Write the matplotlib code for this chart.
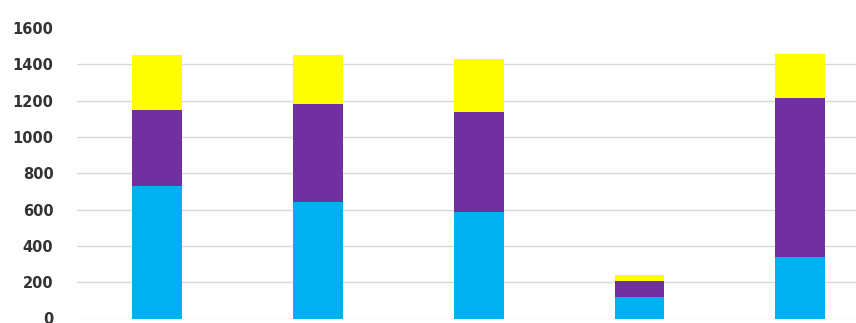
import matplotlib.pyplot as plt
import numpy as np

categories = ["A", "B", "C", "D", "E"]
cyan_vals = [730, 640, 585, 120, 340]
purple_vals = [420, 540, 550, 88, 873]
yellow_vals = [300, 270, 295, 32, 245]
y_ticks = [0, 200, 400, 600, 800, 1000, 1200, 1400, 1600]

fig = plt.figure(figsize=(8.56, 3.23), dpi=100)
# axes runs off the right edge, as in the cropped original
ax = fig.add_axes([77 / 856, 4.5 / 323, 803.5 / 856, 290.5 / 323])

x = np.arange(len(categories))
w = 0.31
cyan = np.array(cyan_vals)
purple = np.array(purple_vals)
yellow = np.array(yellow_vals)

ax.bar(x, cyan, w, color="#00B0F0", zorder=3)
ax.bar(x, purple, w, bottom=cyan, color="#7030A0", zorder=3)
ax.bar(x, yellow, w, bottom=cyan + purple, color="#FFFF00", zorder=3)

ax.set_xlim(-0.5, len(categories) - 0.5)
ax.set_ylim(0, 1600)
ax.set_yticks(y_ticks)
ax.set_yticklabels([str(v) for v in y_ticks], fontsize=10.5, fontweight="bold", color="#333333")
ax.set_xticks([])
ax.tick_params(axis="y", length=0, pad=17)
ax.grid(axis="y", color="#d9d9d9", linewidth=1, zorder=0)
ax.yaxis.get_gridlines()[-1].set_visible(False)
for s in ax.spines.values():
    s.set_visible(False)

fig.savefig("out.png", dpi=100)
